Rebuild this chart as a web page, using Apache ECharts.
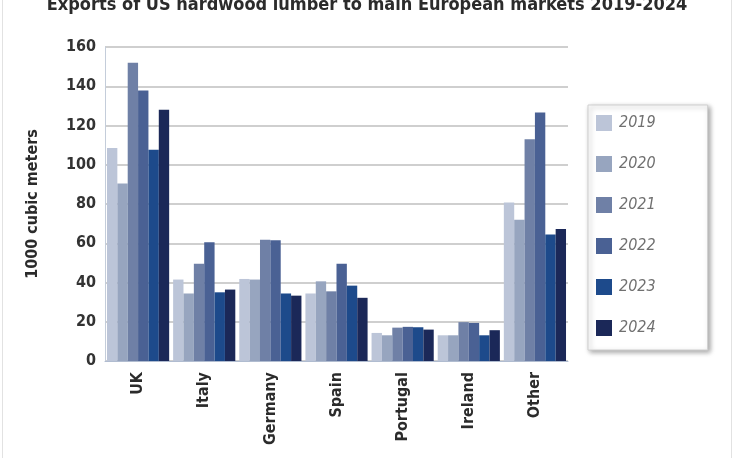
<!DOCTYPE html>
<html><head><meta charset="utf-8">
<script src="https://cdn.jsdelivr.net/npm/echarts@6/dist/echarts.min.js"></script>
<style>html,body{margin:0;padding:0;background:#fff}#w{width:734px;height:458px;position:relative}#c{position:absolute;left:0;top:0;width:734px;height:458px}#f{position:absolute;left:2px;top:-2px;width:728px;height:470px;border:1px solid #e2e2e2;pointer-events:none}</style>
</head><body><div id="w"><div id="c"></div><div id="f"></div></div>
<script>
const categories = ['UK','Italy','Germany','Spain','Portugal','Ireland','Other'];
const years = ['2019','2020','2021','2022','2023','2024'];
const v2019 = [108.5, 41.5, 41.8, 34.4, 14.3, 13.1, 80.8];
const v2020 = [90.5, 34.4, 41.5, 40.6, 13.1, 13.1, 72.0];
const v2021 = [152, 49.5, 61.8, 35.5, 17.0, 19.8, 113];
const v2022 = [137.8, 60.5, 61.5, 49.6, 17.4, 19.4, 126.6];
const v2023 = [107.6, 35.0, 34.4, 38.4, 17.2, 13.1, 64.4];
const v2024 = [128, 36.4, 33.3, 32.2, 16.0, 15.7, 67.3];
const yTicks = [0,20,40,60,80,100,120,140,160];
const colors = ['#bcc5d8','#97a5bf','#6f80a6','#4a6194','#1d4a8b','#1b2858'];
const seriesData = [v2019,v2020,v2021,v2022,v2023,v2024];
const font = "'DejaVu Sans Condensed','Liberation Sans',sans-serif";
const chart = echarts.init(document.getElementById('c'));
chart.setOption({
  animation:false,
  textStyle:{fontFamily:font},
  title:{text:'Exports of US hardwood lumber to main European markets 2019-2024',left:'center',top:-9,
    textStyle:{fontFamily:font,fontSize:18,fontWeight:'bold',color:'#2b2b2b'}},
  grid:{left:105,right:166,top:47,bottom:97},
  legend:{orient:'vertical',left:588,top:105,itemWidth:16,itemHeight:16,itemGap:25,
    padding:[10,52,14,8],backgroundColor:'#fff',borderColor:'#d0d0d0',borderWidth:1,
    shadowColor:'rgba(0,0,0,0.35)',shadowBlur:5,shadowOffsetX:2,shadowOffsetY:2,
    icon:'rect',data:years,
    textStyle:{fontFamily:font,fontSize:16,fontStyle:'italic',color:'#707070',padding:[0,0,0,2]}},
  xAxis:{type:'category',data:categories,
    axisLine:{show:true,lineStyle:{color:'#b0bcd0',width:1}},axisTick:{show:false},
    axisLabel:{rotate:90,fontFamily:font,fontSize:16,fontWeight:'bold',color:'#2b2b2b',margin:11}},
  yAxis:{type:'value',min:0,max:160,interval:20,name:'1000 cubic meters',nameLocation:'middle',nameRotate:90,nameGap:64,
    nameTextStyle:{fontFamily:font,fontSize:16,fontWeight:'bold',color:'#2b2b2b',padding:[0,0,0,0]},
    axisLine:{show:true,lineStyle:{color:'#c4cdda'}},axisTick:{show:false},
    axisLabel:{fontFamily:font,fontSize:16,fontWeight:'bold',color:'#333',margin:9,
      formatter:function(v){return yTicks.indexOf(v)>=0?String(v):'';}},
    splitLine:{lineStyle:{color:'#cfcfcf',width:2}}},
  series:years.map((y,i)=>({name:y,type:'bar',data:seriesData[i],barGap:'0%',barCategoryGap:'6%',
    itemStyle:{color:colors[i]}}))
});
</script></body></html>
